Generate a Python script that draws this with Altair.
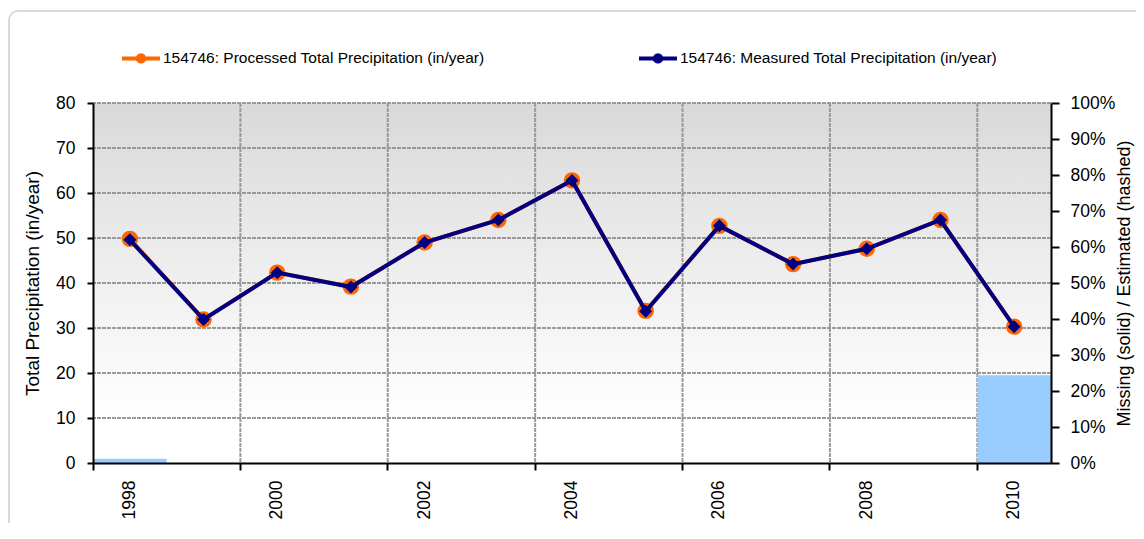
import altair as alt
import pandas as pd

# ---- data ----
years = list(range(1998, 2011))
processed = [49.8, 31.9, 42.3, 39.2, 49.0, 54.0, 62.8, 33.8, 52.7, 44.2, 47.6, 54.0, 30.3]
measured = [49.6, 31.9, 42.3, 39.1, 49.0, 54.0, 62.8, 33.7, 52.7, 44.2, 47.6, 54.0, 30.3]
missing = [0.012, 0, 0, 0, 0, 0, 0, 0, 0, 0, 0, 0, 0.244]
label_years = [1998, 2000, 2002, 2004, 2006, 2008, 2010]
grid_years = [2000, 2002, 2004, 2006, 2008, 2010]
precip_ticks = [0, 10, 20, 30, 40, 50, 60, 70, 80]
precip_grid = [10, 20, 30, 40, 50, 60, 70, 80]
pct_ticks = [0, 0.1, 0.2, 0.3, 0.4, 0.5, 0.6, 0.7, 0.8, 0.9, 1.0]
series_names = [
    "154746: Processed Total Precipitation (in/year)",
    "154746: Measured Total Precipitation (in/year)",
]
series_colors = ["#ff6600", "#000080"]

W, H = 958, 360
FONT = "Liberation Sans"

df_bar = pd.DataFrame({"year": years, "missing": missing})
df_lines = pd.DataFrame(
    {"year": years * 2,
     "series": [series_names[0]] * len(years) + [series_names[1]] * len(years),
     "value": processed + measured}
)
df_vgrid = pd.DataFrame({"year": grid_years})
df_hgrid = pd.DataFrame({"value": precip_grid})

xscale = alt.Scale(domain=years, paddingInner=0, paddingOuter=0)
xaxis = alt.Axis(values=label_years, bandPosition=0, labelAngle=270,
                 labelAlign="right", labelBaseline="middle", labelPadding=10, tickSize=7,
                 tickWidth=2, tickColor="black", domainColor="black", domainWidth=2, grid=False,
                 title=None, labelFont=FONT, labelFontSize=17.5, labelColor="black", zindex=1)
yscale = alt.Scale(domain=[0, 80], nice=False)

gradient = alt.LinearGradient(
    gradient="linear",
    stops=[alt.GradientStop(color="#d9d9d9", offset=0),
           alt.GradientStop(color="#f2f2f2", offset=0.55),
           alt.GradientStop(color="#ffffff", offset=0.88)],
    x1=0, x2=0, y1=0, y2=1,
)

# outer chart frame (decoration) and plot-area gradient background
frame = alt.Chart(alt.Data(values=[{}])).mark_rect(
    filled=False, stroke="#d3dae5", strokeWidth=2, cornerRadius=9).encode(
    x=alt.value(-84), x2=alt.value(W + 200), y=alt.value(-92), y2=alt.value(H + 200)
)
bg = alt.Chart(alt.Data(values=[{}])).mark_rect(color=gradient).encode(
    x=alt.value(0), x2=alt.value(W), y=alt.value(0), y2=alt.value(H)
)

GRID = dict(color="#999999", strokeWidth=2, strokeDash=[4, 1])

vgrid = alt.Chart(df_vgrid).mark_rule(**GRID).encode(
    x=alt.X("year:O", bandPosition=0, scale=xscale, axis=xaxis)
)

hgrid = alt.Chart(df_hgrid).mark_rule(**GRID).encode(
    y=alt.Y("value:Q", scale=yscale, axis=None)
)

bars = alt.Chart(df_bar).mark_bar(color="#99ccff").encode(
    x=alt.X("year:O", scale=xscale, axis=xaxis),
    y=alt.Y("missing:Q", scale=alt.Scale(domain=[0, 1], nice=False),
            axis=alt.Axis(orient="right", values=pct_ticks, format=".0%", tickSize=8, tickWidth=2,
                          tickColor="black", domainColor="black", domainWidth=2, grid=False,
                          labelPadding=11, labelFont=FONT, labelFontSize=17.5, labelColor="black",
                          title="Missing (solid) / Estimated (hashed)", titleAngle=270,
                          titleBaseline="top",
                          titleFont=FONT, titleFontSize=18, titleFontWeight="normal",
                          titleColor="black", titlePadding=1, zindex=1)),
)

color_enc = alt.Color(
    "series:N",
    scale=alt.Scale(domain=series_names, range=series_colors),
    legend=alt.Legend(
        orient="none", legendX=27, legendY=-66, direction="horizontal", title=None,
        symbolType="M-1,0L1,0M-0.17,0A0.17,0.17,0,1,0,0.17,0A0.17,0.17,0,1,0,-0.17,0"
                   "M-0.08,0A0.08,0.08,0,1,0,0.08,0A0.08,0.08,0,1,0,-0.08,0",
        symbolSize=1444, symbolStrokeWidth=4, labelOffset=1, columnPadding=146,
        labelFont=FONT, labelFontSize=15.5, labelColor="black", labelLimit=0, padding=0,
    ),
)

yleft_axis = alt.Axis(orient="left", values=precip_ticks, tickSize=6, tickWidth=2, tickColor="black",
                      domainColor="black", domainWidth=2, grid=False, labelPadding=12,
                      labelFont=FONT, labelFontSize=17.5, labelColor="black",
                      title="Total Precipitation (in/year)", titleFont=FONT, titleFontSize=19,
                      titleFontWeight="normal", titleColor="black", titlePadding=13, zindex=1)

proc_line = alt.Chart(df_lines).transform_filter(alt.datum.series == series_names[0]).mark_line(
    strokeWidth=4).encode(
    x=alt.X("year:O", scale=xscale, axis=xaxis),
    y=alt.Y("value:Q", scale=yscale, axis=yleft_axis),
    color=color_enc,
)
proc_pts = alt.Chart(df_lines).transform_filter(alt.datum.series == series_names[0]).mark_point(
    shape="circle", filled=True, size=270, color=series_colors[0], opacity=1).encode(
    x=alt.X("year:O", scale=xscale, axis=xaxis),
    y=alt.Y("value:Q", scale=yscale, axis=None),
)
meas_line = alt.Chart(df_lines).transform_filter(alt.datum.series == series_names[1]).mark_line(
    strokeWidth=4).encode(
    x=alt.X("year:O", scale=xscale, axis=xaxis),
    y=alt.Y("value:Q", scale=yscale, axis=None),
    color=color_enc,
)
meas_pts = alt.Chart(df_lines).transform_filter(alt.datum.series == series_names[1]).mark_point(
    shape="diamond", filled=True, size=170, color=series_colors[1], opacity=1).encode(
    x=alt.X("year:O", scale=xscale, axis=xaxis),
    y=alt.Y("value:Q", scale=yscale, axis=None),
)

chart = alt.layer(frame, bg, vgrid, hgrid, bars, proc_line, proc_pts, meas_line, meas_pts).resolve_scale(
    y="independent"
).properties(
    width=W, height=H,
    autosize=alt.AutoSizeParams(type="none"),
    padding={"left": 85, "top": 95, "right": 85, "bottom": 60},
    background="white",
).configure_view(stroke=None)

chart.save("out.html", embed_options={"renderer": "svg", "actions": False})
